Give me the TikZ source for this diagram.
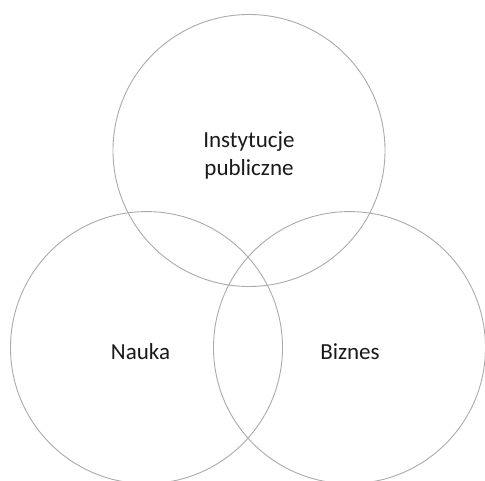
\documentclass[tikz,border=0pt]{standalone}
\usepackage{fontspec}
\setmainfont{Carlito}
\usepackage{tikz}
\definecolor{ringgray}{RGB}{170,170,170}
\begin{document}
\begin{tikzpicture}[x=1pt,y=-1pt,
        ring/.style={draw=ringgray, line width=0.9pt},
        lbl/.style={font=\fontsize{23}{28}\selectfont, align=center, text=black!90}]
        \useasboundingbox (0,0) rectangle (485,481);
        \draw[ring] (249,150.5) circle[radius=136pt];
        \draw[ring] (146.5,347.6) circle[radius=136pt];
        \draw[ring] (349.5,347.6) circle[radius=136pt];
        \node[lbl] (inst) at (249,155) {Instytucje\\publiczne};
        \node[lbl] (nauka) at (140.5,352) {Nauka};
        \node[lbl] (biznes) at (350,352) {Biznes};
      \end{tikzpicture}
\end{document}
